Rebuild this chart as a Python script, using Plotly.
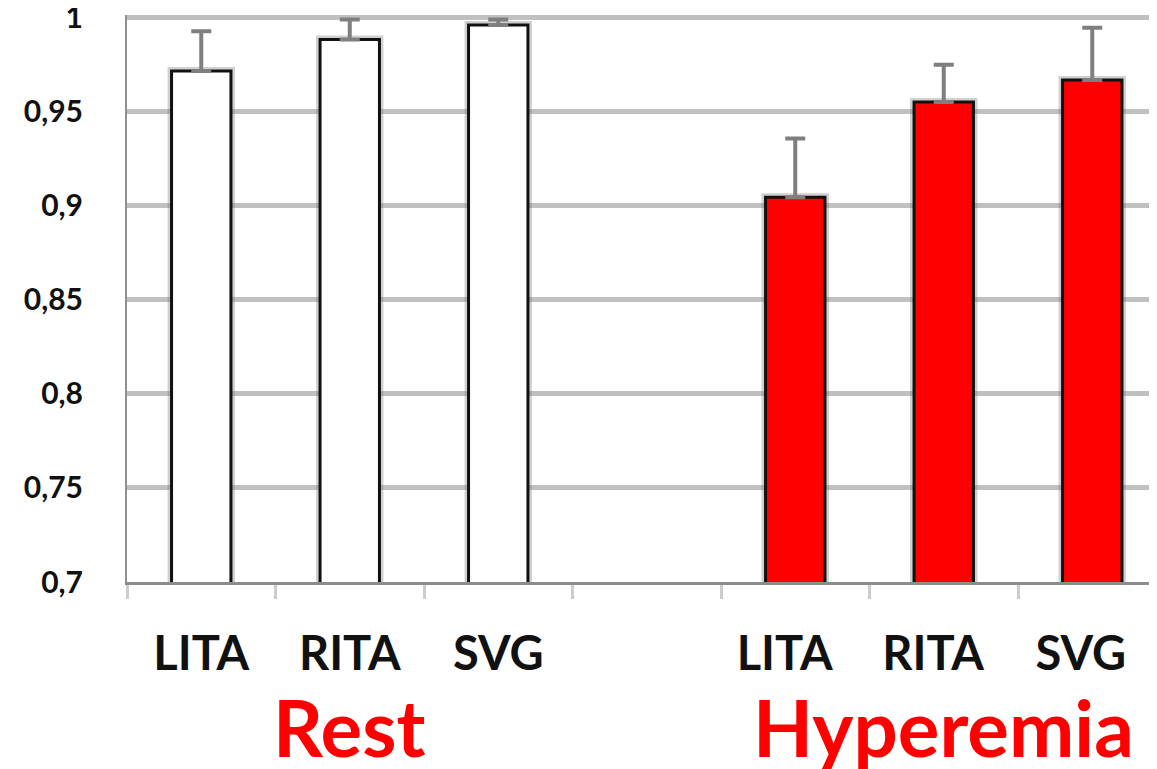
import plotly.graph_objects as go

# Data
rest_labels = ["LITA", "RITA", "SVG"]
hyp_labels = ["LITA", "RITA", "SVG"]
rest_values = [0.9717, 0.9885, 0.9962]
rest_err = [0.0211, 0.0106, 0.0029]
hyp_values = [0.9046, 0.9553, 0.9670]
hyp_err = [0.0312, 0.0198, 0.0277]
group_names = ["Rest", "Hyperemia"]
y_ticks = [0.7, 0.75, 0.8, 0.85, 0.9, 0.95, 1.0]
y_tick_text = ["0,7", "0,75", "0,8", "0,85", "0,9", "0,95", "1"]

# distinct category names (hyperemia names get trailing spaces), with an empty slot between groups
rest_cats = list(rest_labels)
gap_cat = " "
hyp_cats = [l + "  " for l in hyp_labels]
all_cats = rest_cats + [gap_cat] + hyp_cats

FONT = "Lato"
fig = go.Figure()

# soft shadows behind bars
for cats, vals in ((rest_cats, rest_values), (hyp_cats, hyp_values)):
    fig.add_trace(go.Bar(
        x=cats, y=vals,
        marker=dict(color="rgba(0,0,0,0)", line=dict(color="rgba(120,120,120,0.35)", width=8)),
        showlegend=False, hoverinfo="skip"))

fig.add_trace(go.Bar(
    x=rest_cats + [gap_cat], y=rest_values + [None],
    marker=dict(color="#ffffff", line=dict(color="#111111", width=3)),
    error_y=dict(type="data", symmetric=False, array=rest_err + [None],
                 arrayminus=[0] * 4, color="#7f7f7f", thickness=4, width=10),
    showlegend=False))
fig.add_trace(go.Bar(
    x=hyp_cats, y=hyp_values,
    marker=dict(color="#ff0000", line=dict(color="#111111", width=3)),
    error_y=dict(type="data", symmetric=False, array=hyp_err,
                 arrayminus=[0] * 3, color="#7f7f7f", thickness=4, width=10),
    showlegend=False))

# group labels
for name, cat in zip(group_names, [rest_cats[1], hyp_cats[1]]):
    fig.add_annotation(x=cat, xref="x", y=0, yref="paper", yanchor="top",
                       yshift=-96, text=name, showarrow=False,
                       font=dict(family=FONT, size=78, color="#ff0000", weight="bold"))

# the page body adds an 8px offset, so the figure is drawn 8px smaller and shifted
fig.update_layout(
    width=1149, height=761,
    margin=dict(l=119, r=0, t=7, b=187, autoexpand=False),
    paper_bgcolor="white", plot_bgcolor="white",
    barmode="overlay", bargap=0.6,
    separators=",.",
    showlegend=False,
)
fig.update_xaxes(
    type="category", categoryorder="array", categoryarray=all_cats,
    range=[-0.5, 6.436], automargin=False,
    showline=True, linecolor="#8c8c8c", linewidth=3,
    showgrid=False, zeroline=False,
    ticks="outside", tickson="boundaries", ticklen=14, tickwidth=3, tickcolor="#cccccc",
    ticklabelstandoff=29,
    tickfont=dict(family=FONT, size=47, color="#111111", weight="bold"),
)
fig.update_yaxes(
    range=[0.7, 1.0015], tickmode="array", tickvals=y_ticks, ticktext=y_tick_text,
    automargin=False, ticklabeloverflow="allow",
    showgrid=True, gridcolor="#c0c0c0", gridwidth=4.5,
    showline=True, linecolor="#909090", linewidth=2,
    zeroline=False,
    ticks="", ticklabelstandoff=36,
    tickfont=dict(family=FONT, size=30, color="#111111", weight="bold"),
)

fig.write_html("out.html")
